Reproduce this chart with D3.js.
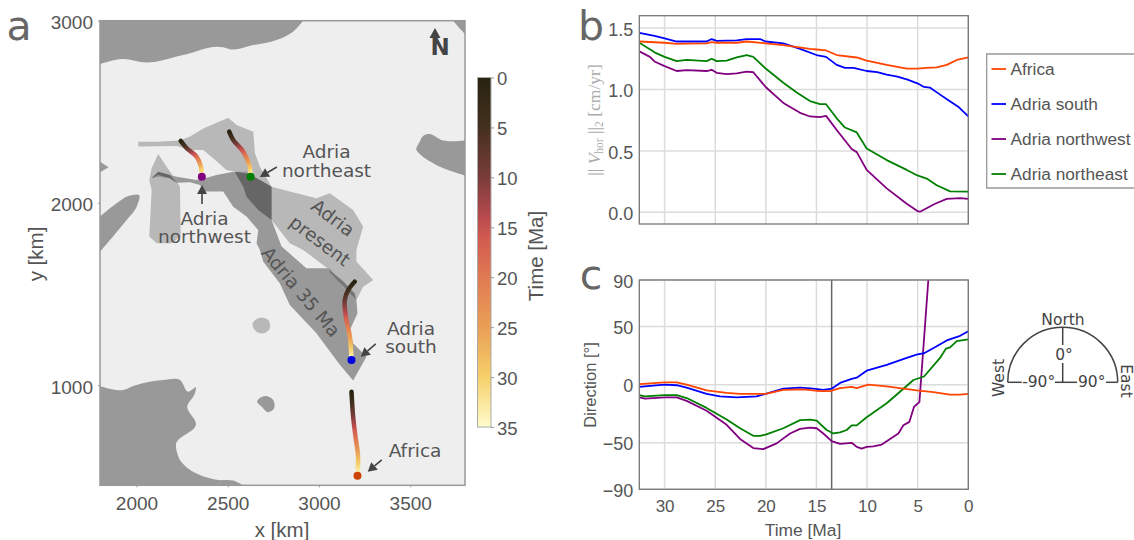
<!DOCTYPE html>
<html><head><meta charset="utf-8">
<script src="https://cdn.jsdelivr.net/npm/d3@7/dist/d3.min.js"></script>
<style>html,body{margin:0;padding:0;background:#fff;overflow:hidden}svg{display:block}</style>
</head><body><svg id="c" width="1134" height="540"></svg>
<script>
// ---- Map polygons, [x km, y km]
const topLand=[[2913,3000],[2858,2940],[2767,2894],[2640,2866],[2512,2843],[2475,2854],[2256,2812],[2055,2771],[1919,2790],[1800,2762]];
const topCorner=[[1800,3000]];
const cornerLand=[[3735,3000],[3800,3000],[3800,2927],[3770,2958]];
const rightLand=[[3800,2150],[3643,2208],[3552,2268],[3534,2290],[3552,2336],[3570,2367],[3598,2378],[3680,2342],[3800,2342]];
const leftLand=[[1800,1925],[1891,1998],[1955,2038],[2014,2043],[2001,1979],[1946,1906],[1855,1797],[1800,1733]];
const leftTip=[[1800,2226],[1847,2195],[1800,2168]];
const bottomLand=[[1800,995],[1928,973],[1983,995],[2147,1028],[2238,1028],[2284,964],[2326,988],[2320,955],[2278,882],[2326,787],[2216,672],[2229,608],[2439,480],[2530,476],[2585,450]];
const bottomCorner=[[1800,450]];
const isletDark=[[2661,909],[2703,940],[2749,918],[2754,873],[2722,851],[2685,882]];
const isletLight=[[2636,1339],[2676,1370],[2722,1357],[2731,1312],[2694,1284],[2658,1293]];
const adriaWest=[[2119,2268],[2165,2199],[2216,2126],[2238,2089],[2242,1815],[2192,1778],[2110,1778],[2070,1815],[2083,2071],[2070,2126],[2083,2190]];
const adriaPresent=[[2010,2336],[2110,2336],[2238,2342],[2293,2364],[2366,2409],[2503,2468],[2548,2428],[2640,2391],[2649,2272],[2676,2199],[2740,2089],[2877,2053],[2986,2025],[3059,2053],[3187,1961],[3242,1870],[3205,1742],[3205,1678],[3297,1577],[3242,1540],[3205,1467],[3196,1504],[3059,1632],[3023,1659],[2913,1742],[2840,1778],[2740,1906],[2658,2034],[2548,2171],[2493,2181],[2420,2245],[2366,2290],[2293,2290],[2220,2312],[2010,2309]];
const adria35=[[2083,2135],[2119,2168],[2220,2144],[2329,2126],[2375,2135],[2439,2153],[2530,2171],[2603,2171],[2676,2126],[2740,2089],[2740,1906],[2795,1760],[2859,1705],[2931,1641],[3059,1641],[3132,1540],[3205,1467],[3211,1394],[3169,1303],[3187,1229],[3260,1156],[3187,1025],[3114,1111],[2986,1284],[2840,1440],[2785,1559],[2694,1678],[2676,1742],[2658,1778],[2667,1851],[2603,1925],[2530,1979],[2475,2062],[2375,2062],[2348,2098],[2293,2113],[2220,2111],[2183,2135],[2119,2144]];
const overlapEast=[[2539,2171],[2612,2162],[2676,2126],[2740,2089],[2740,1906],[2667,1961],[2603,2034],[2585,2089]];
const overlapWest=[[2083,2135],[2119,2171],[2183,2153],[2220,2111],[2183,2135],[2119,2153]];
const overlapLine=[[3059,1632],[3132,1570],[3196,1504],[3205,1467],[3180,1490],[3059,1620]];
// ---- Trajectories, [x km, y km], from 35 Ma to 0 Ma
const trackNW=[[2358,2144],[2353,2199],[2329,2254],[2275,2300],[2242,2340]];
const trackNE=[[2625,2144],[2618,2208],[2585,2281],[2530,2345],[2508,2391]];
const trackS=[[3178,1138],[3169,1266],[3147,1376],[3141,1467],[3160,1522],[3196,1568]];
const trackAF=[[3211,502],[3214,608],[3200,717],[3187,827],[3178,964]];
// ---- Colormap
const cmapAges=[0,5,10,14,16,20,25,30,35];
const cmapColors=["#27230f","#44301f","#7a3c3a","#b84a4e","#d15a50","#df7a52","#ea9f55","#f6d06a","#fffccd"];
const ageTicks=[0,5,10,15,20,25,30,35];
// ---- Panel b: speed [cm/yr]
const bTimeAF=[32.5,30,28.81,27.82,25.85,25.35,24.86,22.88,21.89,20.02,18.27,15.64,14.98,14.05,13,11.02,10.04,8.06,6.08,5.03,4.11,3.12,2.13,1.14,0];
const bAF=[1.39,1.38,1.37,1.372,1.375,1.385,1.38,1.38,1.39,1.375,1.36,1.33,1.325,1.317,1.28,1.26,1.235,1.2,1.17,1.17,1.175,1.18,1.2,1.24,1.26];
const bTimeS=[32.5,31,30,28.81,27.82,25.85,25.35,24.86,22.88,21.89,20.58,20.02,18.27,16.62,15,14.05,13,12.18,11.35,11.02,10.04,9,8.06,7,6,5.03,4.37,3.8,3,2,1,0];
const bS=[1.46,1.435,1.415,1.39,1.39,1.39,1.41,1.395,1.40,1.41,1.41,1.39,1.375,1.33,1.28,1.265,1.2,1.175,1.175,1.17,1.15,1.14,1.12,1.105,1.08,1.05,1.02,1.015,0.97,0.915,0.86,0.78];
const bTimeNE=[32.5,30.95,30,28.81,27.82,25.85,25.35,24.86,23.87,22.88,21.89,21.24,20.02,18.27,16.95,15.64,14.65,14.05,13,12.18,11.02,10.04,8.06,6.08,5.03,4.11,3.12,1.8,0];
const bNE=[1.38,1.30,1.265,1.23,1.24,1.23,1.25,1.23,1.235,1.26,1.28,1.265,1.17,1.055,0.975,0.905,0.88,0.88,0.765,0.69,0.65,0.52,0.425,0.345,0.30,0.275,0.22,0.17,0.168];
const bTimeNW=[32.5,31.45,30.95,30,28.81,27.82,25.85,25.35,24.86,23.87,22.88,21.89,21.24,20.02,18.27,16.62,15.64,14.65,14.05,13,11.52,11.02,10.04,8.06,6.08,5.03,4.77,3.28,2.13,0.81,0];
const bNW=[1.31,1.265,1.225,1.19,1.15,1.157,1.15,1.16,1.135,1.125,1.13,1.145,1.14,1.02,0.89,0.81,0.78,0.775,0.785,0.67,0.515,0.49,0.345,0.195,0.07,0.01,0.005,0.07,0.11,0.115,0.11];
// ---- Panel c: direction [deg]
const cTimeAF=[32.5,30,28.81,27.82,25.85,23.87,22.55,20.02,18.27,16.29,14.65,13.66,12.67,11.52,11.02,9.87,8.06,5.1,3.45,1.8,0.81,0];
const cAF=[0.5,2,2,0,-5,-7,-8,-8,-4.5,-4,-5.5,-5.5,-3,-2,-3,0,-1.5,-5,-6.5,-8.5,-8.5,-8];
const cTimeS=[32.5,30,28.81,27.82,25.85,24.53,22.88,20.91,20.02,18.27,16.62,15.31,14.32,13.5,12.67,11.52,11.02,10.04,8.06,6.08,5.03,4.37,3.12,2.13,0.81,0];
const cS=[-2,0,-0.5,-2.5,-8,-10,-11,-10,-8,-3.5,-2.5,-3.5,-4.5,-3.5,1.5,5,6,12,17,23,26,27,33,38,42,46];
const cTimeNE=[32.5,31.94,30,28.81,27.82,25.85,23.87,22.55,21.24,20.58,20.02,18.27,16.62,15.64,14.98,13.99,13.33,12.67,12.01,11.52,11.02,10.04,8.06,6.41,5.42,4.37,2.79,2.2,1.8,1.14,0];
const cNE=[-9,-10,-9,-9,-11.5,-20,-30,-37.5,-44,-44,-43,-37.5,-30.5,-30,-31,-39,-42,-41,-39,-35,-35,-28,-16,-3.5,4,7,23,31,32,37.5,39];
const cTimeNW=[32.5,31.94,30,28.81,27.82,25.85,23.87,22.55,21.24,20.25,18.93,17.61,16.62,15.64,14.98,14.32,13.5,12.67,11.52,11.02,10.53,10.04,9.38,8.55,6.91,6.41,5.82,5.36,4.83,3.94];
const cNW=[-11,-12,-11,-11,-14,-22.5,-34.5,-46.7,-54.5,-55.5,-50.5,-42,-38,-37,-37.5,-42,-48.5,-51,-50,-53.5,-55,-53.5,-53,-51.5,-42,-35,-32,-19,-15,91];
const selectedTime=[13.5];
const timeTicks=[30,25,20,15,10,5,0];
const speedTicks=[0,0.5,1,1.5];
const dirTicks=[90,50,0,-50,-90];
const mapXTicks=[2000,2500,3000,3500];
const mapYTicks=[1000,2000,3000];
const legendNames=["Africa","Adria south","Adria northwest","Adria northeast"];
const seriesColors=["#ff4500","#0000ff","#800080","#008000"];

const SANS="'Liberation Sans',Arial,sans-serif", DV="'DejaVu Sans',sans-serif";
const svg=d3.select("#c");
const defs=svg.append("defs");

// ---- Panel a
const mx=d3.scaleLinear().domain([1800,3800]).range([100,465]);
const my=d3.scaleLinear().domain([450,3000]).range([485.3,20.7]);
const straight=d3.line().x(d=>mx(d[0])).y(d=>my(d[1])).curve(d3.curveLinearClosed);
const round=d3.line().x(d=>mx(d[0])).y(d=>my(d[1])).curve(d3.curveCatmullRomClosed.alpha(1));
const open=d3.line().x(d=>mx(d[0])).y(d=>my(d[1])).curve(d3.curveCatmullRom.alpha(1));
const edge=(e,extra)=>open(e)+(extra||[]).map(p=>`L${mx(p[0])},${my(p[1])}`).join("")+"Z";
defs.append("clipPath").attr("id","clipMap").append("rect").attr("x",100).attr("y",20.7).attr("width",365).attr("height",464.6);
const G=svg.append("g");
G.append("rect").attr("x",100).attr("y",20.7).attr("width",365).attr("height",464.6).attr("fill","#eeeeee");
const medium="#999999",light="#b8b8b8",dark="#666666";
const L=G.append("g").attr("clip-path","url(#clipMap)");
[[edge(topLand,topCorner),medium],[straight(cornerLand),medium],[edge(rightLand),medium],[edge(leftLand),medium],[straight(leftTip),medium],[edge(bottomLand,bottomCorner),medium],[round(isletDark),medium],[round(isletLight),light],[straight(adriaWest),light],[straight(adriaPresent),light],[straight(adria35),medium],[straight(overlapEast),dark],[straight(overlapWest),dark],[straight(overlapLine),"#777"]]
 .forEach(([d,c])=>L.append("path").attr("d",d).attr("fill",c));

const ageColor=d3.scaleLinear().domain(cmapAges).range(cmapColors);
const trk=d3.line().x(d=>mx(d[0])).y(d=>my(d[1])).curve(d3.curveCatmullRom);
function gradient(id,x1,y1,x2,y2){
  const g=defs.append("linearGradient").attr("id",id).attr("gradientUnits","userSpaceOnUse")
    .attr("x1",x1).attr("y1",y1).attr("x2",x2).attr("y2",y2);
  cmapAges.slice().reverse().forEach(a=>g.append("stop").attr("offset",1-a/35).attr("stop-color",ageColor(a)));
}
[[trackNW,"tNW",seriesColors[2]],[trackNE,"tNE",seriesColors[3]],[trackS,"tS","#0000e0"],[trackAF,"tAF","#cc4400"]].forEach(([t,id,col])=>{
  const a=t[0],b=t[t.length-1];
  gradient(id,mx(a[0]),my(a[1]),mx(b[0]),my(b[1]));
  G.append("path").attr("d",trk(t)).attr("fill","none").attr("stroke",`url(#${id})`).attr("stroke-width",4.5).attr("stroke-linecap","round");
  G.append("circle").attr("cx",mx(a[0])).attr("cy",my(a[1])).attr("r",4).attr("fill",col);
});
const arrows=[[[2769,2197],[2676,2142]],[[2359,1994],[2359,2098]],[[3311,1226],[3229,1155]],[[3344,590],[3267,524]]];
arrows.forEach(([s,e])=>{
  const x1=mx(s[0]),y1=my(s[1]),x2=mx(e[0]),y2=my(e[1]);
  const ang=Math.atan2(y2-y1,x2-x1),h=9,w=5;
  const bx=x2-h*Math.cos(ang),by=y2-h*Math.sin(ang);
  G.append("line").attr("x1",x1).attr("y1",y1).attr("x2",bx).attr("y2",by).attr("stroke","#444").attr("stroke-width",1.6);
  G.append("polygon").attr("fill","#444").attr("points",[[x2,y2],[bx-w*Math.sin(ang),by+w*Math.cos(ang)],[bx+w*Math.sin(ang),by-w*Math.cos(ang)]].join(" "));
});
// North arrow
G.append("line").attr("x1",435).attr("y1",36).attr("x2",435).attr("y2",44).attr("stroke","#444").attr("stroke-width",2.5);
G.append("polygon").attr("points","435,28 429.5,38 440.5,38").attr("fill","#444");
G.append("text").attr("x",440).attr("y",55).attr("text-anchor","middle").attr("font-family",DV).attr("font-weight","bold").attr("font-size",23).attr("fill","#444").text("N");
// Labels
const LABEL=18.5;
function lab(t,x,y,rot){
  G.append("text").attr("transform",`translate(${x},${y})`+(rot?` rotate(${rot})`:"")).attr("text-anchor","middle")
   .attr("font-family",DV).attr("font-size",LABEL).attr("fill","#555").text(t);
}
function lab2(a,b,x,y,gap){
  const t=G.append("text").attr("text-anchor","middle").attr("font-family",DV).attr("font-size",LABEL).attr("fill","#555");
  t.append("tspan").attr("x",x).attr("y",y).text(a);
  t.append("tspan").attr("x",x).attr("y",y+gap).text(b);
}
lab2("Adria","northeast",326.5,158,18.7);
lab2("Adria","northwest",204.5,225,18.3);
lab("Adria",329,223,37);lab("present",316,246,37);
lab("Adria 35 Ma",296,296,50);
lab2("Adria","south",411,335,18.3);
lab("Africa",415,457);
G.append("rect").attr("x",100).attr("y",20.7).attr("width",365).attr("height",464.6).attr("fill","none").attr("stroke","#999").attr("stroke-width",1.5);

function styleAxis(g,size,color){
  g.select(".domain").remove();
  g.selectAll("text").attr("font-family",SANS).attr("font-size",size).attr("fill",color||"#555");
}
const xA=svg.append("g").attr("transform","translate(0,485.3)").call(d3.axisBottom(mx).tickValues(mapXTicks).tickSize(2).tickPadding(9).tickFormat(d3.format("d")));
styleAxis(xA,19);xA.selectAll("line").attr("stroke","#999");
const yA=svg.append("g").attr("transform","translate(100,0)").call(d3.axisLeft(my).tickValues(mapYTicks).tickSize(2).tickPadding(5).tickFormat(d3.format("d")));
styleAxis(yA,19);yA.selectAll("line").attr("stroke","#999");yA.selectAll("text").attr("dy","0.42em");
function txt(t,x,y,size,rot,fam,fill){
  return svg.append("text").attr("transform",`translate(${x},${y})`+(rot?` rotate(${rot})`:"")).attr("text-anchor","middle").attr("dy","0.35em")
   .attr("font-family",fam||SANS).attr("font-size",size).attr("fill",fill||"#555").text(t);
}
txt("x [km]",282,530,20.5);
txt("y [km]",36,254,20.5,-90);

// Colour bar
const cb=d3.scaleLinear().domain([0,35]).range([77.5,427]);
const cbGrad=defs.append("linearGradient").attr("id","cbar").attr("x1",0).attr("y1",0).attr("x2",0).attr("y2",1);
cmapAges.forEach(a=>cbGrad.append("stop").attr("offset",a/35).attr("stop-color",ageColor(a)));
svg.append("rect").attr("x",477.5).attr("y",77.5).attr("width",13.5).attr("height",349.5).attr("fill","url(#cbar)").attr("stroke","#aaa").attr("stroke-width",1);
const cA=svg.append("g").attr("transform","translate(491,0)").call(d3.axisRight(cb).tickValues(ageTicks).tickSize(3).tickPadding(3));
styleAxis(cA,18.5);cA.selectAll("line").attr("stroke","#999");cA.selectAll("text").attr("dy","0.4em");
txt("Time [Ma]",536,256,20.5,-90);

// ---- Panels b, c
const tx=d3.scaleLinear().domain([32.5,0]).range([639.3,968.3]);
const by=d3.scaleLinear().domain([-0.095,1.6]).range([224,15.7]);
const cy=d3.scaleLinear().domain([-90,90]).range([489.3,280]);
function panel(yS,yT,top,bottom,clipId,fmt,showX){
  const g=svg.append("g");
  timeTicks.forEach(t=>g.append("line").attr("x1",tx(t)).attr("x2",tx(t)).attr("y1",top).attr("y2",bottom).attr("stroke","#dcdcdc").attr("stroke-width",1.5));
  yT.forEach(v=>g.append("line").attr("x1",639.3).attr("x2",968.3).attr("y1",yS(v)).attr("y2",yS(v)).attr("stroke","#dcdcdc").attr("stroke-width",1.5));
  defs.append("clipPath").attr("id",clipId).append("rect").attr("x",639.3).attr("y",top).attr("width",329).attr("height",bottom-top);
  const a=svg.append("g").attr("transform","translate(639.3,0)").call(d3.axisLeft(yS).tickValues(yT).tickSize(0).tickPadding(6).tickFormat(fmt));
  styleAxis(a,18);a.selectAll("text").attr("dy","0.4em");
  if(showX){
    const b=svg.append("g").attr("transform",`translate(0,${bottom})`).call(d3.axisBottom(tx).tickValues(timeTicks).tickSize(0).tickPadding(11));
    styleAxis(b,17);
  }
  return g;
}
const bMinus=d=>String(d).replace("-","\u2212");
panel(by,speedTicks,15.7,224,"clipB",d3.format(".1f"),false);
panel(cy,dirTicks,280,489.3,"clipC",bMinus,true);
function plot(yS,clip,T,V,col){
  svg.append("path").attr("clip-path",`url(#${clip})`).attr("fill","none").attr("stroke",col).attr("stroke-width",1.8).attr("stroke-linejoin","round")
   .attr("d",d3.line().x((d,i)=>tx(T[i])).y(d=>yS(d))(V));
}
plot(by,"clipB",bTimeNW,bNW,seriesColors[2]);
plot(by,"clipB",bTimeNE,bNE,seriesColors[3]);
plot(by,"clipB",bTimeS,bS,seriesColors[1]);
plot(by,"clipB",bTimeAF,bAF,seriesColors[0]);
svg.selectAll(".sel").data(selectedTime).enter().append("line").attr("x1",d=>tx(d)).attr("x2",d=>tx(d)).attr("y1",280).attr("y2",489.3).attr("stroke","#666").attr("stroke-width",1.5);
plot(cy,"clipC",cTimeNW,cNW,seriesColors[2]);
plot(cy,"clipC",cTimeNE,cNE,seriesColors[3]);
plot(cy,"clipC",cTimeS,cS,seriesColors[1]);
plot(cy,"clipC",cTimeAF,cAF,seriesColors[0]);
[[15.7,224],[280,489.3]].forEach(([t,b])=>svg.append("rect").attr("x",639.3).attr("y",t).attr("width",329).attr("height",b-t).attr("fill","none").attr("stroke","#777").attr("stroke-width",1.3));

txt("Direction [°]",590,385,16.5,-90);
txt("Time [Ma]",803,530,17.4);
// math label
const ml=svg.append("text").attr("transform","translate(600,120) rotate(-90)").attr("text-anchor","middle").attr("font-family","'Liberation Serif',serif").attr("font-size",17.5).attr("fill","#aaa");
ml.append("tspan").text("|| ");
ml.append("tspan").attr("font-style","italic").text("V");
ml.append("tspan").attr("font-size",11.5).attr("dy",3).text("hor");
ml.append("tspan").attr("dy",-3).text(" ||");
ml.append("tspan").attr("font-size",11.5).attr("dy",3).text("2");
ml.append("tspan").attr("dy",-3).text(" [cm/yr]");

// Panel letters
[["a",19,26],["b",591,26],["c",591,275]].forEach(([t,x,y])=>txt(t,x,y,41,0,DV,"#666"));

// Legend
const LX=986.7;
svg.append("path").attr("d",`M1134,54 H${LX} V188 H1134`).attr("fill","none").attr("stroke","#999").attr("stroke-width",1.3);
legendNames.forEach((n,i)=>{
  const y=69+i*35;
  svg.append("line").attr("x1",991.5).attr("x2",1006).attr("y1",y).attr("y2",y).attr("stroke",seriesColors[i]).attr("stroke-width",1.8);
  svg.append("text").attr("x",1010.5).attr("y",y).attr("dy","0.36em").attr("font-family",SANS).attr("font-size",17.3).attr("fill","#555").text(n);
});

// Compass
const CX=1062.7,CY=382.3,R=55;
const comp=svg.append("g").attr("fill","none").attr("stroke","#444").attr("stroke-width",1.5);
comp.append("path").attr("d",d3.arc()({innerRadius:R,outerRadius:R,startAngle:-Math.PI/2,endAngle:Math.PI/2})).attr("transform",`translate(${CX},${CY})`);
[[CX,CY-R,CX,345],[CX,363,CX,CY],[CX-R,CY,1021.7,CY],[1055,CY,1077,CY],[1106,CY,CX+R,CY]].forEach(l=>comp.append("line").attr("x1",l[0]).attr("y1",l[1]).attr("x2",l[2]).attr("y2",l[3]));
txt("North",1063,320,15.5,0,DV,"#444");
txt("0°",1064,355,15.5,0,DV,"#444");
txt("-90°",1038.7,382,15.5,0,DV,"#444");
txt("90°",1091.7,382,15.5,0,DV,"#444");
txt("West",999,378,15.5,-90,DV,"#444");
txt("East",1126,381,15.5,90,DV,"#444");
</script></body></html>
